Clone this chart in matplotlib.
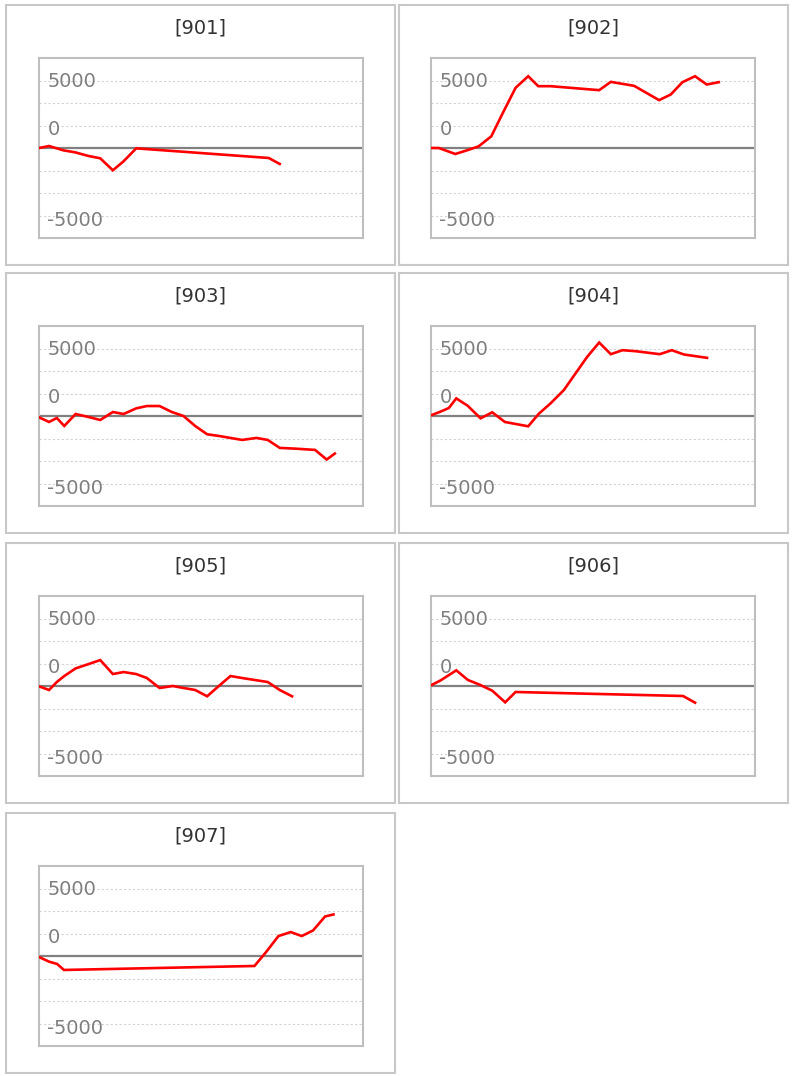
import matplotlib
matplotlib.use('Agg')
import matplotlib.pyplot as plt
from matplotlib.patches import Rectangle
from matplotlib.transforms import blended_transform_factory

# ---------------- data ----------------
titles = ['[901]', '[902]', '[903]', '[904]', '[905]', '[906]', '[907]']

x_901 = [0, 3.1, 7.5, 11.1, 15.3, 18.9, 22.8, 26.1, 30.0, 70.9, 74.3]
y_901 = [0, 148, -172, -320, -591, -763, -1650, -985, -25, -739, -1182]

x_902 = [0, 2.4, 7.5, 11.1, 14.7, 18.6, 22.3, 26.1, 30.0, 33.1, 36.9, 51.9,
         55.5, 59.1, 62.7, 70.4, 74.0, 77.6, 81.5, 85.1, 88.8]
y_902 = [0, 0, -443, -172, 123, 862, 2659, 4456, 5318, 4579, 4579, 4284,
         4899, 4751, 4604, 3545, 3963, 4874, 5318, 4702, 4874]

x_903 = [0, 3.1, 5.5, 7.8, 11.3, 15.3, 18.9, 22.8, 26.1, 30.0, 33.3, 37.2,
         41.0, 44.6, 48.2, 51.9, 55.5, 59.1, 62.7, 67.1, 70.6, 74.3, 78.7,
         85.2, 88.8, 91.3]
y_903 = [-98, -443, -148, -739, 148, -74, -295, 295, 148, 566, 739, 739,
         295, 0, -739, -1354, -1477, -1625, -1773, -1625, -1773, -2364,
         -2413, -2511, -3225, -2782]

x_904 = [0, 2.9, 5.5, 7.8, 11.3, 15.3, 18.9, 22.8, 30.0, 33.3, 36.9, 41.0,
         44.6, 48.2, 51.9, 55.5, 59.1, 63.2, 70.6, 74.3, 78.1, 85.2]
y_904 = [49, 320, 591, 1305, 763, -172, 271, -443, -763, 172, 936, 1920,
         3151, 4382, 5441, 4579, 4874, 4800, 4579, 4874, 4554, 4308]

x_905 = [0, 3.1, 5.5, 7.8, 11.3, 15.3, 18.9, 22.8, 26.1, 30.0, 33.3, 37.2,
         41.3, 44.6, 48.2, 51.9, 55.5, 59.1, 62.7, 70.6, 74.3, 78.1]
y_905 = [-25, -295, 295, 739, 1305, 1625, 1920, 886, 1034, 886, 591, -148,
         0, -148, -295, -763, 0, 739, 591, 295, -295, -763]

x_906 = [0, 3.0, 7.8, 11.4, 15.0, 18.9, 22.9, 26.1, 77.8, 81.5]
y_906 = [49, 420, 1160, 444, 99, -346, -1210, -444, -741, -1235]

x_907 = [0, 3.1, 5.6, 7.7, 66.5, 70.1, 73.9, 77.7, 81.1, 84.6, 88.3, 90.9]
y_907 = [-74, -419, -591, -1034, -739, 295, 1477, 1773, 1477, 1896, 2930, 3078]

xs = [x_901, x_902, x_903, x_904, x_905, x_906, x_907]
ys = [y_901, y_902, y_903, y_904, y_905, y_906, y_907]

tick_labels = ['5000', '0', '-5000']

# ---------------- layout ----------------
W, H = 792, 1076
STEP = 5000 / 3.0
fig = plt.figure(figsize=(W / 100, H / 100), dpi=100)
fig.patch.set_facecolor('white')

box_x = [6, 399]
box_y = [5, 273, 543, 813]
box_w, box_h = 389, 260
plot_dx = [33, 32]
plot_dy = 53
plot_w, plot_h = 324, 180

label_steps = [2.73, 0.56, -3.46]

for i, (title, x, y) in enumerate(zip(titles, xs, ys)):
    r, c = divmod(i, 2)
    bx, by = box_x[c], box_y[r]
    # panel frame
    fig.patches.append(Rectangle((bx / W, 1 - (by + box_h) / H), box_w / W, box_h / H,
                                 transform=fig.transFigure, fill=False,
                                 edgecolor='#c8c8c8', linewidth=1.5))
    fig.text((bx + box_w / 2) / W, 1 - (by + 23) / H, title, ha='center', va='center',
             fontsize=14, color='#333333', family='DejaVu Sans')

    px = bx + plot_dx[c]
    py = by + plot_dy
    ax = fig.add_axes([px / W, 1 - (py + plot_h) / H, plot_w / W, plot_h / H])
    ax.set_xlim(0, 100)
    ax.set_ylim(-4 * STEP, 4 * STEP)
    for s in ax.spines.values():
        s.set_color('#bfbfbf')
        s.set_linewidth(1.5)
    ax.set_xticks([])
    ax.set_yticks([])
    for k in [-3, -2, -1, 1, 2, 3]:
        ax.axhline(k * STEP, color='#d3d3d3', linewidth=0.8, linestyle=(0, (2, 2)), zorder=1)
    ax.axhline(0, color='#808080', linewidth=1.6, zorder=2)
    ax.plot(x, y, color='#ff0000', linewidth=1.9, zorder=3, solid_joinstyle='miter')
    trans = blended_transform_factory(ax.transAxes, ax.transData)
    for lab, st in zip(tick_labels, label_steps):
        ax.text(0.0256, st * STEP, lab, transform=trans, ha='left', va='baseline',
                fontsize=13.9, color='#7f7f7f', zorder=4)

fig.savefig('out.png', dpi=100, facecolor='white')
